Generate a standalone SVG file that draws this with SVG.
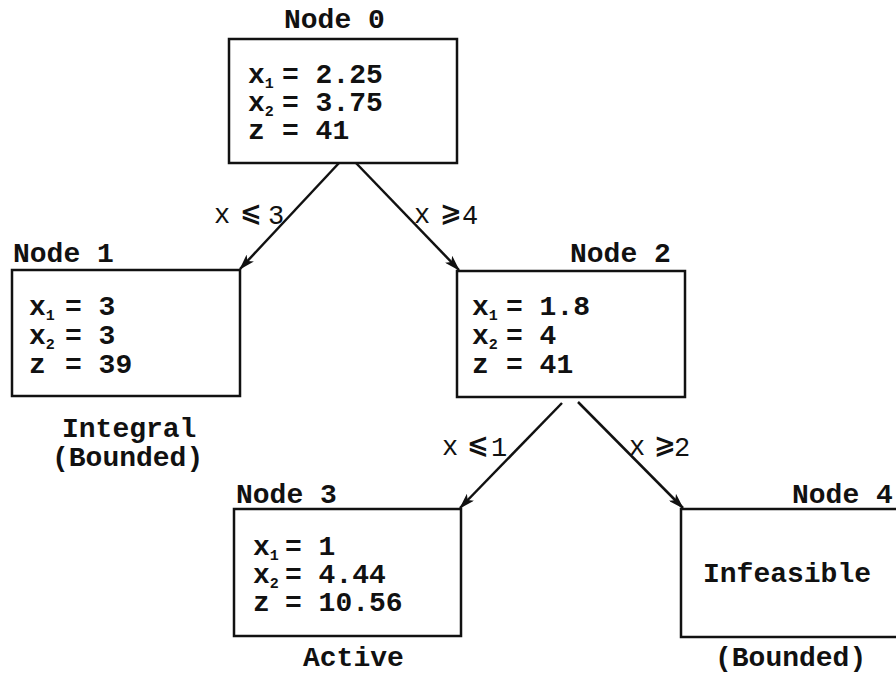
<svg xmlns="http://www.w3.org/2000/svg" width="896" height="675" viewBox="0 0 896 675">
<style>
.box{fill:#fff;stroke:#111;stroke-width:2.5}
.t{font-family:"Liberation Mono","Courier New",monospace;font-weight:bold;font-size:28px;fill:#111}
.s{font-size:15px}
.l{font-family:"Liberation Mono","Courier New",monospace;font-size:27px;fill:#111}
.r{font-family:"DejaVu Sans",sans-serif;font-weight:bold;font-size:26px}
.c{stroke:#111;stroke-width:2.5;fill:none;marker-end:url(#ah)}
</style>
<defs>
<marker id="ah" viewBox="0 0 16 10" refX="15" refY="5" markerWidth="16" markerHeight="10" markerUnits="userSpaceOnUse" orient="auto">
<path d="M0,0 L16,5 L0,10 L4,5 Z" fill="#111"/>
</marker>
</defs>
<rect width="896" height="675" fill="#fff"/>

<g id="connectors">
<line class="c" x1="339" y1="163" x2="240" y2="269"/>
<line class="c" x1="356" y1="163" x2="459" y2="270"/>
<line class="c" x1="562" y1="403" x2="460" y2="508"/>
<line class="c" x1="578" y1="402" x2="683" y2="508"/>
<text class="l" x="214" y="223">x<tspan class="r" x="240" dy="-2">⩽</tspan><tspan x="268" dy="3">3</tspan></text>
<text class="l" x="414" y="223">x<tspan class="r" x="440" dy="-2">⩾</tspan><tspan x="462" dy="3">4</tspan></text>
<text class="l" x="442" y="455">x<tspan class="r" x="467" dy="-2">⩽</tspan><tspan x="491" dy="3">1</tspan></text>
<text class="l" x="629" y="455">x<tspan class="r" x="654" dy="-2">⩾</tspan><tspan x="674" dy="3">2</tspan></text>
</g>

<g id="node0">
<text class="t" x="284" y="28">Node 0</text>
<rect class="box" x="229" y="39" width="228" height="124"/>
<text class="t" x="248" y="83">x<tspan class="s" dy="5">1</tspan><tspan x="282" dy="-5">= 2.25</tspan></text>
<text class="t" x="248" y="111">x<tspan class="s" dy="5">2</tspan><tspan x="282" dy="-5">= 3.75</tspan></text>
<text class="t" x="248" y="139">z<tspan x="282">= 41</tspan></text>
</g>

<g id="node1">
<text class="t" x="13" y="262">Node 1</text>
<rect class="box" x="12" y="270" width="228" height="126"/>
<text class="t" x="29" y="315">x<tspan class="s" dy="5">1</tspan><tspan x="65" dy="-5">= 3</tspan></text>
<text class="t" x="29" y="344">x<tspan class="s" dy="5">2</tspan><tspan x="65" dy="-5">= 3</tspan></text>
<text class="t" x="29" y="373">z<tspan x="65">= 39</tspan></text>
<text class="t" x="62" y="437">Integral</text>
<text class="t" x="52" y="466">(Bounded)</text>
</g>

<g id="node2">
<text class="t" x="570" y="262">Node 2</text>
<rect class="box" x="457" y="271" width="228" height="126"/>
<text class="t" x="472" y="315">x<tspan class="s" dy="5">1</tspan><tspan x="506" dy="-5">= 1.8</tspan></text>
<text class="t" x="472" y="344">x<tspan class="s" dy="5">2</tspan><tspan x="506" dy="-5">= 4</tspan></text>
<text class="t" x="472" y="373">z<tspan x="506">= 41</tspan></text>
</g>

<g id="node3">
<text class="t" x="236" y="503">Node 3</text>
<rect class="box" x="234" y="509" width="227" height="127"/>
<text class="t" x="253" y="555">x<tspan class="s" dy="5">1</tspan><tspan x="285" dy="-5">= 1</tspan></text>
<text class="t" x="253" y="583">x<tspan class="s" dy="5">2</tspan><tspan x="285" dy="-5">= 4.44</tspan></text>
<text class="t" x="253" y="611">z<tspan x="285">= 10.56</tspan></text>
<text class="t" x="303" y="666">Active</text>
</g>

<g id="node4">
<text class="t" x="792" y="503">Node 4</text>
<rect class="box" x="681" y="509" width="230" height="128"/>
<text class="t" x="703" y="582">Infeasible</text>
<text class="t" x="715" y="666">(Bounded)</text>
</g>
</svg>
